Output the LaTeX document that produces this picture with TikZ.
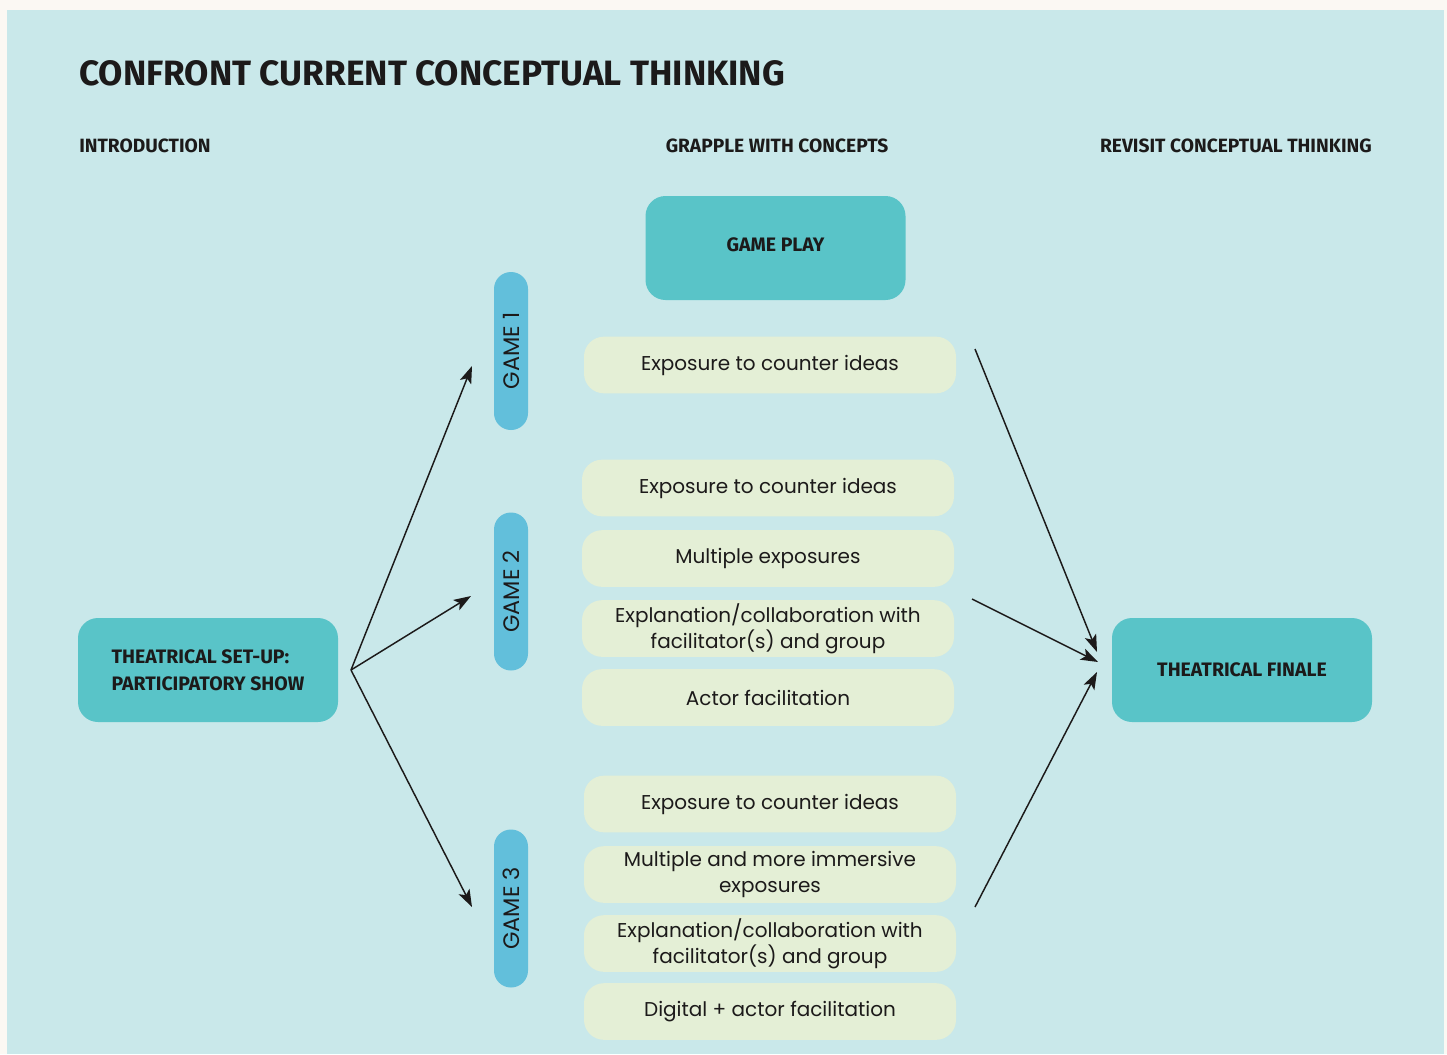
\documentclass[tikz,border=0pt]{standalone}
\usepackage{fontspec}
\setmainfont{Poppins}
\newfontfamily\headfont{Fira Sans}
\usetikzlibrary{arrows.meta}
\definecolor{bgc}{HTML}{C9E8EA}
\definecolor{outerc}{HTML}{FBF8F3}
\definecolor{tealc}{HTML}{59C4C8}
\definecolor{pillc}{HTML}{62BFDB}
\definecolor{creamc}{HTML}{E4EFD6}
\definecolor{inkc}{HTML}{1C1A1A}
\begin{document}
\begin{tikzpicture}[x=0.75pt,y=-0.75pt,
  headtxt/.style={font=\headfont\bfseries\fontsize{14.4}{17}\selectfont, text=inkc, inner sep=0pt},
  tealbox/.style={fill=tealc, rounded corners=15pt, minimum width=195pt, minimum height=78pt, inner sep=0pt,
    font=\headfont\bfseries\fontsize{14.6}{20}\selectfont, text=inkc},
  gamepill/.style={fill=pillc, rounded corners=12.7pt, minimum width=118.5pt, minimum height=25.5pt, inner sep=0pt,
    rotate=90, font=\fontsize{16.8}{18}\selectfont, text=inkc},
  cream/.style={fill=creamc, rounded corners=15pt, minimum width=279pt, minimum height=42.5pt, inner sep=0pt,
    align=center, font=\fontsize{15}{19.5}\selectfont, text=inkc},
  conn/.style={draw=inkc, line width=1.1pt, -{Stealth[length=13pt,width=9pt,inset=3pt]}}
]
\fill[outerc] (0,0) rectangle (1447,1054);
\useasboundingbox (0,0) rectangle (1447,1054);
\fill[bgc] (7,10) rectangle (1444,1054);

% headings
\node[anchor=base west, inner sep=0pt, text=inkc, font=\headfont\bfseries\fontsize{26.4}{32}\selectfont] (title) at (79,85) {CONFRONT CURRENT CONCEPTUAL THINKING};
\node[headtxt, anchor=base west] (intro) at (79,152) {INTRODUCTION};
\node[headtxt, anchor=base] (grapple) at (777,152) {GRAPPLE WITH CONCEPTS};
\node[headtxt, anchor=base east] (revisit) at (1372,152) {REVISIT CONCEPTUAL THINKING};

% main boxes
\node[tealbox] (gameplay) at (775.5,248) {\raisebox{4.5pt}{GAME PLAY}};
\node[tealbox, align=left] (setup) at (208,670) {THEATRICAL SET-UP:\\PARTICIPATORY SHOW};
\node[tealbox] (finale) at (1242,670) {THEATRICAL FINALE};

% game pills
\node[gamepill] (game1) at (511,351) {GAME 1};
\node[gamepill] (game2) at (511,591.5) {GAME 2};
\node[gamepill] (game3) at (511,908.5) {GAME 3};

% game 1 steps
\node[cream] (a1) at (770,365) {Exposure to counter ideas};
% game 2 steps
\node[cream] (b1) at (768,488) {Exposure to counter ideas};
\node[cream] (b2) at (768,558.5) {Multiple exposures};
\node[cream] (b3) at (768,628.5) {Explanation/collaboration with\\facilitator(s) and group};
\node[cream] (b4) at (768,697.5) {Actor facilitation};
% game 3 steps
\node[cream] (c1) at (770,804) {Exposure to counter ideas};
\node[cream] (c2) at (770,874.5) {Multiple and more immersive\\exposures};
\node[cream] (c3) at (770,943.5) {Explanation/collaboration with\\facilitator(s) and group};
\node[cream] (c4) at (770,1011.5) {Digital + actor facilitation};

% connector end points
\coordinate (fork) at (351,670);
\coordinate (in1) at (472,366);
\coordinate (in2) at (471,596);
\coordinate (in3) at (472,907);
\coordinate (out1) at (975,349);
\coordinate (out2) at (972,599);
\coordinate (out3) at (975,907);
\coordinate (fin1) at (1097,652);
\coordinate (fin2) at (1098,662);
\coordinate (fin3) at (1097,672);

\draw[conn] (fork) -- (in1);
\draw[conn] (fork) -- (in2);
\draw[conn] (fork) -- (in3);
\draw[conn] (out1) -- (fin1);
\draw[conn] (out2) -- (fin2);
\draw[conn] (out3) -- (fin3);
\end{tikzpicture}
\end{document}
